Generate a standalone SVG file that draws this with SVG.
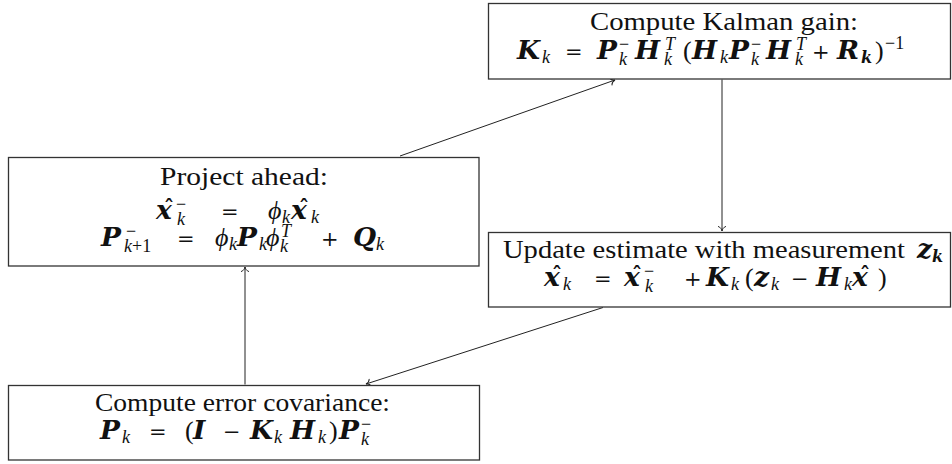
<svg xmlns="http://www.w3.org/2000/svg" width="952" height="464" viewBox="0 0 952 464">
<defs>
<marker id="arr" viewBox="-6 -6 8 12" markerWidth="8" markerHeight="12" refX="0" refY="0" orient="auto" markerUnits="userSpaceOnUse">
<path d="M-4.5,-3.6 C-3.8,-1.4 -1.4,-0.3 0,0 C-1.4,0.3 -3.8,1.4 -4.5,3.6" fill="none" stroke="#222" stroke-width="1" stroke-linecap="round"/>
</marker>
<style>
.box{fill:#fff;stroke:#333;stroke-width:1.3}
.e{stroke:#222;stroke-width:1;fill:none;marker-end:url(#arr)}
text{font-family:"Liberation Serif","Times New Roman",serif;font-size:26px;fill:#111}
.b{font-family:"DejaVu Serif",serif;font-weight:bold;font-style:italic;font-size:26.5px}
.op{font-family:"DejaVu Serif",serif;font-size:21px}
.i{font-style:italic}
.s{font-size:18px}
.bs{font-family:"DejaVu Serif",serif;font-weight:bold;font-style:italic;font-size:16px}
.hat{font-family:"DejaVu Serif",serif;font-weight:bold;font-size:20px}
</style>
</defs>
<rect width="952" height="464" fill="#fff"/>
<g id="connectors">
<path class="e" d="M400,156 L615,80"/>
<path class="e" d="M722,79.5 L722,231"/>
<path class="e" d="M603,307.5 L366,384"/>
<path class="e" d="M245,384.5 L245,267"/>
</g>
<g id="kalman-gain">
<rect class="box" x="488.5" y="3.5" width="462" height="75.5"/>
<text x="590" y="30" textLength="268" lengthAdjust="spacingAndGlyphs">Compute Kalman gain:</text>
<text><tspan class="b" x="517" y="59">K</tspan><tspan class="s i" x="542" y="63">k</tspan><tspan class="op" x="565" y="59">=</tspan><tspan class="b" x="597" y="59">P</tspan><tspan class="s" x="619" y="50">−</tspan><tspan class="s i" x="619" y="65">k</tspan><tspan class="b" x="635" y="59">H</tspan><tspan class="s i" x="665" y="50">T</tspan><tspan class="s i" x="664" y="65">k</tspan><tspan x="683" y="59">(</tspan><tspan class="b" x="692" y="59">H</tspan><tspan class="s i" x="720" y="63">k</tspan><tspan class="b" x="729" y="59">P</tspan><tspan class="s" x="751" y="50">−</tspan><tspan class="s i" x="751" y="65">k</tspan><tspan class="b" x="766" y="59">H</tspan><tspan class="s i" x="796" y="50">T</tspan><tspan class="s i" x="795" y="65">k</tspan><tspan class="op" x="812" y="59">+</tspan><tspan class="b" x="837" y="59">R</tspan><tspan class="bs" x="861" y="63">k</tspan><tspan x="875" y="59">)</tspan><tspan class="s" x="885" y="49">−1</tspan></text>
</g>
<g id="project-ahead">
<rect class="box" x="8.5" y="157.5" width="470.5" height="108.5"/>
<text x="160" y="185" textLength="168" lengthAdjust="spacingAndGlyphs">Project ahead:</text>
<text><tspan class="b" x="156" y="219">x</tspan><tspan class="hat" x="164" y="215">ˆ</tspan><tspan class="s" x="176" y="210">−</tspan><tspan class="s i" x="177" y="225">k</tspan><tspan class="op" x="221" y="219">=</tspan><tspan class="i" x="268" y="219">ϕ</tspan><tspan class="s i" x="282" y="223">k</tspan><tspan class="b" x="291" y="219">x</tspan><tspan class="hat" x="299" y="215">ˆ</tspan><tspan class="s i" x="311" y="223">k</tspan></text>
<text><tspan class="b" x="101" y="246">P</tspan><tspan class="s" x="126" y="237">−</tspan><tspan class="s i" x="124" y="252">k</tspan><tspan class="s" x="132" y="252">+1</tspan><tspan class="op" x="177" y="246">=</tspan><tspan class="i" x="215" y="246">ϕ</tspan><tspan class="s i" x="229" y="250">k</tspan><tspan class="b" x="237" y="246">P</tspan><tspan class="s i" x="259" y="250">k</tspan><tspan class="i" x="266" y="246">ϕ</tspan><tspan class="s i" x="281" y="237">T</tspan><tspan class="s i" x="280" y="252">k</tspan><tspan class="op" x="321" y="246">+</tspan><tspan class="b" x="353" y="246">Q</tspan><tspan class="s i" x="376" y="250">k</tspan></text>
</g>
<g id="update-estimate">
<rect class="box" x="488.5" y="232.5" width="462" height="74.5"/>
<text x="503" y="257.5" textLength="402" lengthAdjust="spacingAndGlyphs">Update estimate with measurement</text>
<text><tspan class="b" x="917" y="257.5">z</tspan><tspan class="bs" x="932" y="261.5">k</tspan></text>
<text><tspan class="b" x="544" y="286">x</tspan><tspan class="hat" x="552" y="282">ˆ</tspan><tspan class="s i" x="563" y="290">k</tspan><tspan class="op" x="594" y="286">=</tspan><tspan class="b" x="624" y="286">x</tspan><tspan class="hat" x="632" y="282">ˆ</tspan><tspan class="s" x="644" y="277">−</tspan><tspan class="s i" x="645" y="292">k</tspan><tspan class="op" x="684" y="286">+</tspan><tspan class="b" x="706" y="286">K</tspan><tspan class="s i" x="731" y="290">k</tspan><tspan x="745" y="286">(</tspan><tspan class="b" x="754" y="286">z</tspan><tspan class="s i" x="771" y="290">k</tspan><tspan class="op" x="791" y="286">−</tspan><tspan class="b" x="816" y="286">H</tspan><tspan class="s i" x="844" y="290">k</tspan><tspan class="b" x="852" y="286">x</tspan><tspan class="hat" x="860" y="282">ˆ</tspan><tspan x="878" y="286">)</tspan></text>
</g>
<g id="error-covariance">
<rect class="box" x="8.5" y="385.5" width="471" height="74.5"/>
<text x="95" y="411" textLength="295" lengthAdjust="spacingAndGlyphs">Compute error covariance:</text>
<text><tspan class="b" x="100" y="439">P</tspan><tspan class="s i" x="122" y="443">k</tspan><tspan class="op" x="149" y="439">=</tspan><tspan x="185" y="439">(</tspan><tspan class="b" x="193" y="439">I</tspan><tspan class="op" x="223" y="439">−</tspan><tspan class="b" x="250" y="439">K</tspan><tspan class="s i" x="274" y="443">k</tspan><tspan class="b" x="290" y="439">H</tspan><tspan class="s i" x="318" y="443">k</tspan><tspan x="329" y="439">)</tspan><tspan class="b" x="339" y="439">P</tspan><tspan class="s" x="361" y="430">−</tspan><tspan class="s i" x="361" y="445">k</tspan></text>
</g>
</svg>
